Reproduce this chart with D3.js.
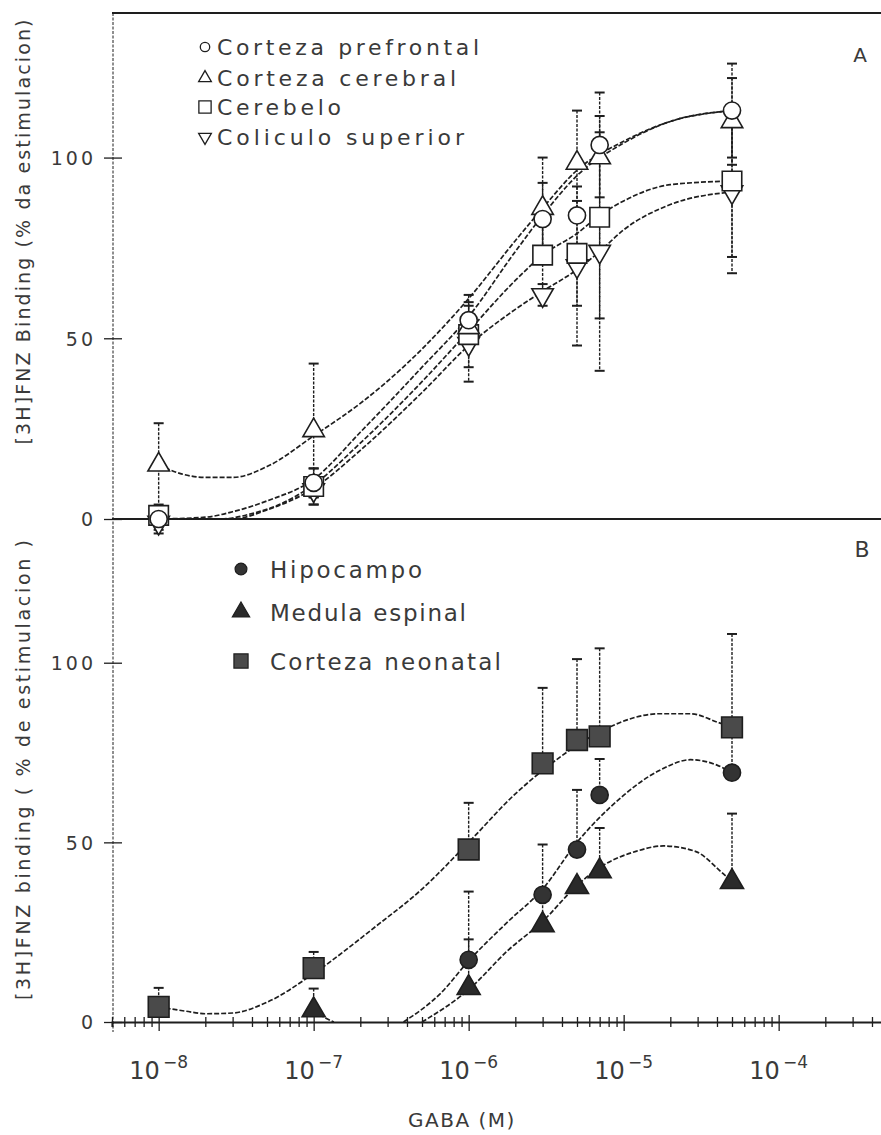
<!DOCTYPE html>
<html><head><meta charset="utf-8">
<script src="https://cdn.jsdelivr.net/npm/d3@7"></script>
<style>
body{margin:0;background:#fff;}
text{font-family:"DejaVu Sans","Liberation Sans",sans-serif;fill:#3a3a3a;}
</style></head>
<body>
<svg id="chart" width="881" height="1135"></svg>
<script>
// ---------- DATA ----------
// Panel A (open symbols)
const concA = [1e-8, 1e-7, 1e-6, 3e-6, 5e-6, 7e-6, 5e-5];
const prefrontal    = [0, 10, 55, 83, 84, 103.5, 113];
const prefrontalErr = [3, 4, 7, 10, 0, 14.5, 13];
const cerebral      = [15, 24.5, 53, 86, 98.5, 100, 110];
const cerebralErr   = [11.5, 18.5, 0, 14, 14.5, 0, 12];
const cerebelo      = [1, 9, 51, 73, 73.5, 83.5, 93.5];
const cerebeloErr   = [3, 5, 9, 10, 14.5, 28, 21];
const coliculo      = [-1, 8, 48.5, 62, 70, 74, 90.5];
const coliculoErr   = [3, 4, 10.5, 3, 22, 33, 22.5];

const prefrontalFit = [[1e-8,0],[2e-8,0.5],[3e-8,2],[5e-8,5],[1e-7,11],[2e-7,24],[5e-7,42],[1e-6,56],[2e-6,74],[3e-6,84],[5e-6,95],[1e-5,104],[2e-5,110],[5e-5,113]];
const cerebralFit   = [[1e-8,15],[1.4e-8,12.5],[2e-8,11.5],[3e-8,11.5],[5e-8,14.5],[1e-7,23],[2e-7,32],[4e-7,43],[1e-6,61],[2e-6,77],[3e-6,86],[5e-6,96.5],[1e-5,104.5],[2e-5,110],[5e-5,113]];
const cerebeloFit   = [[1e-8,0],[2.5e-8,0],[4e-8,1.5],[6e-8,4],[1e-7,9.5],[2e-7,21],[5e-7,38],[1e-6,52],[2e-6,66],[3e-6,73],[5e-6,79],[7e-6,84],[1e-5,88],[2e-5,92.5],[5e-5,93.5]];
const coliculoFit   = [[1e-8,0],[3e-8,0],[5e-8,2.5],[1e-7,8.5],[2e-7,19],[5e-7,35],[1e-6,48],[2e-6,58],[3e-6,63],[5e-6,69],[7e-6,74],[1e-5,80],[2e-5,87],[5e-5,90.5]];

// Panel B (filled symbols)
const concNeonatal = [1e-8, 1e-7, 1e-6, 3e-6, 5e-6, 7e-6, 5e-5];
const neonatal     = [4.2, 15, 48, 72, 78.5, 79.5, 82];
const neonatalErr  = [5.3, 4.5, 13, 21, 22.5, 24.5, 26];
const concHipocampo = [1e-6, 3e-6, 5e-6, 7e-6, 5e-5];
const hipocampo     = [17.3, 35.4, 48, 63.2, 69.4];
const hipocampoErr  = [19, 14, 16.6, 10, 12.6];
const concMedula = [1e-7, 1e-6, 3e-6, 5e-6, 7e-6, 5e-5];
const medula     = [3.3, 9.5, 27, 37.6, 42, 39];
const medulaErr  = [6, 13.5, 8, 0, 12, 19];

const neonatalFit  = [[1e-8,4.2],[1.5e-8,3],[2e-8,2.3],[3e-8,2.5],[5e-8,5.5],[1e-7,13.5],[2.5e-7,26.5],[5e-7,37],[1e-6,50],[2e-6,63.5],[3e-6,70],[5e-6,77],[8e-6,82],[1.7e-5,85.8],[2.7e-5,85.8],[4e-5,83.5],[5e-5,82]];
const hipocampoFit = [[3.8e-7,0],[6.6e-7,8],[1e-6,17],[1.8e-6,28],[3e-6,37],[5e-6,50],[8.3e-6,60],[1.7e-5,70],[2.7e-5,73],[4e-5,71.5],[5e-5,69.4]];
const medulaFit    = [[5e-7,0],[1e-6,9],[1.8e-6,20],[3e-6,28],[5e-6,38],[7e-6,43],[1.2e-5,47.5],[1.8e-5,49],[2.9e-5,47.5],[4.2e-5,42],[5e-5,39]];
const medulaHump   = [[1e-7,3.3],[1.15e-7,1.5],[1.35e-7,0]];

const yTicks = [0, 50, 100];
const xDecades = [-8, -7, -6, -5, -4];
const legendA = ["Corteza prefrontal", "Corteza cerebral", "Cerebelo", "Coliculo superior"];
const legendB = ["Hipocampo", "Medula espinal", "Corteza neonatal"];
const titleA = "[3H]FNZ Binding (% da estimulacion)";
const titleB = "[3H]FNZ binding ( % de estimulacion )";
const titleX = "GABA (M)";

// ---------- SCALES ----------
const svg = d3.select("#chart");
const x  = d3.scaleLog().domain([5e-9, 5e-4]).range([112, 887]);
const yA = d3.scaleLinear().domain([0, 140]).range([519, 13]);
const yB = d3.scaleLinear().domain([0, 140]).range([1022, 519]);
const ink = "#1e1e1e";

// ---------- FRAME / AXES ----------
svg.append("line").attr("x1",112).attr("x2",881).attr("y1",yA(140)).attr("y2",yA(140))
  .attr("stroke",ink).attr("stroke-width",2);
svg.append("line").attr("x1",112).attr("x2",881).attr("y1",yA(0)).attr("y2",yA(0))
  .attr("stroke",ink).attr("stroke-width",2);
svg.append("line").attr("x1",113).attr("x2",113).attr("y1",yA(140)).attr("y2",1032)
  .attr("stroke",ink).attr("stroke-width",1).attr("stroke-dasharray","3,1.5");

function yAxis(scale){
  const g = svg.append("g").attr("transform","translate(113,0)")
    .call(d3.axisLeft(scale).tickValues(yTicks).tickSize(9).tickPadding(8));
  g.select(".domain").remove();
  g.selectAll(".tick line").attr("x1",9).attr("stroke",ink).attr("stroke-width",1.3);
  g.selectAll(".tick text").style("font-size","19px").style("letter-spacing","3px")
    .attr("fill","#444").attr("dy","0.36em");
}
yAxis(yA); yAxis(yB);

// bottom x axis (panel B)
const allTicks = x.ticks();
const gx = svg.append("g").attr("transform",`translate(0,${yB(0)})`)
  .call(d3.axisBottom(x).tickValues(allTicks).tickFormat("").tickSize(5));
gx.select(".domain").attr("stroke",ink).attr("stroke-width",2);
gx.selectAll(".tick line").each(function(d){
  const major = Math.abs(Math.log10(d) - Math.round(Math.log10(d))) < 1e-6;
  d3.select(this).attr("y1", major ? -7 : -5).attr("y2", major ? 9 : 5)
    .attr("stroke",ink).attr("stroke-width",1.3);
});
// decade labels
xDecades.forEach(e=>{
  const t = svg.append("text").attr("x", x(Math.pow(10,e))).attr("y",1079)
    .attr("text-anchor","middle").style("font-size","24px").attr("fill","#444");
  t.append("tspan").text("10");
  t.append("tspan").text("\u2212" + Math.abs(e)).attr("dy",-11).attr("dx",3)
    .style("font-size","17px");
});
svg.append("text").attr("x",462).attr("y",1127).attr("text-anchor","middle")
  .style("font-size","20px").style("letter-spacing","1.5px").attr("fill","#444").text(titleX);

// y titles
svg.append("text").attr("transform","translate(30,232) rotate(-90)").attr("text-anchor","middle")
  .style("font-size","19px").attr("textLength",425).attr("lengthAdjust","spacing")
  .attr("fill","#444").text(titleA);
svg.append("text").attr("transform","translate(30,770) rotate(-90)").attr("text-anchor","middle")
  .style("font-size","19px").attr("textLength",460).attr("lengthAdjust","spacing")
  .attr("fill","#444").text(titleB);

// panel letters
svg.append("text").attr("x",860).attr("y",62).attr("text-anchor","middle").style("font-size","20px").text("A");
svg.append("text").attr("x",862).attr("y",557).attr("text-anchor","middle").style("font-size","22px").text("B");

// ---------- CURVES ----------
function curve(pts, scale){
  const line = d3.line().x(d=>x(d[0])).y(d=>scale(d[1])).curve(d3.curveMonotoneX);
  svg.append("path").attr("d", line(pts)).attr("fill","none").attr("stroke",ink)
    .attr("stroke-width",1.7).attr("stroke-dasharray","5,2");
}
[prefrontalFit, cerebralFit, cerebeloFit, coliculoFit].forEach(c=>curve(c, yA));
[neonatalFit, hipocampoFit, medulaFit, medulaHump].forEach(c=>curve(c, yB));

// ---------- ERROR BARS ----------
function errBars(conc, vals, errs, scale, twoSided){
  conc.forEach((c,i)=>{
    if(!errs[i]) return;
    const cx = x(c), top = scale(vals[i]+errs[i]), bot = twoSided ? scale(vals[i]-errs[i]) : scale(vals[i]);
    svg.append("line").attr("x1",cx).attr("x2",cx).attr("y1",top).attr("y2",bot)
      .attr("stroke",ink).attr("stroke-width",1.4).attr("stroke-dasharray","3,1.5");
    svg.append("line").attr("x1",cx-5).attr("x2",cx+5).attr("y1",top).attr("y2",top)
      .attr("stroke",ink).attr("stroke-width",2);
    if(twoSided) svg.append("line").attr("x1",cx-5).attr("x2",cx+5).attr("y1",bot).attr("y2",bot)
      .attr("stroke",ink).attr("stroke-width",2);
  });
}
errBars(concA, prefrontal, prefrontalErr, yA, true);
errBars(concA, cerebral, cerebralErr, yA, true);
errBars(concA, cerebelo, cerebeloErr, yA, true);
errBars(concA, coliculo, coliculoErr, yA, true);
errBars(concNeonatal, neonatal, neonatalErr, yB, false);
errBars(concHipocampo, hipocampo, hipocampoErr, yB, false);
errBars(concMedula, medula, medulaErr, yB, false);

// ---------- MARKERS ----------
const sym = {
  circle: d3.symbol().type(d3.symbolCircle),
  square: d3.symbol().type(d3.symbolSquare),
  triangle: d3.symbol().type(d3.symbolTriangle)
};
function markers(conc, vals, type, size, scale, filled, rot, fillCol){
  svg.append("g").selectAll("path").data(conc).join("path")
    .attr("d", sym[type].size(size)())
    .attr("transform",(c,i)=>`translate(${x(c)},${scale(vals[i])}) rotate(${rot||0})`)
    .attr("fill", filled ? fillCol : "#fff").attr("stroke",ink).attr("stroke-width",1.6);
}
markers(concA, coliculo, "triangle", 200, yA, false, 180);
markers(concA, cerebelo, "square", 380, yA, false);
markers(concA, cerebral, "triangle", 200, yA, false);
markers(concA, prefrontal, "circle", 230, yA, false);
markers(concNeonatal, neonatal, "square", 430, yB, true, 0, "#4a4a4a");
markers(concHipocampo, hipocampo, "circle", 230, yB, true, 0, "#333");
markers(concMedula, medula, "triangle", 230, yB, true, 0, "#2a2a2a");

// ---------- LEGENDS ----------
const legA = [
  {t:"circle", s:70, r:0, y:47, w:262},
  {t:"triangle", s:70, r:0, y:78, w:239},
  {t:"square", s:150, r:0, y:107, w:124},
  {t:"triangle", s:70, r:180, y:137, w:247}
];
legA.forEach((d,i)=>{
  svg.append("path").attr("d", sym[d.t].size(d.s)())
    .attr("transform",`translate(205,${d.y}) rotate(${d.r})`)
    .attr("fill","#fff").attr("stroke",ink).attr("stroke-width",1.3);
  svg.append("text").attr("x",217).attr("y",d.y+8).style("font-size","22px")
    .attr("textLength",d.w).attr("lengthAdjust","spacing").text(legendA[i]);
});
const legB = [
  {t:"circle", s:110, y:569, w:152, f:"#333"},
  {t:"triangle", s:130, y:612, w:196, f:"#2a2a2a"},
  {t:"square", s:200, y:661, w:231, f:"#4a4a4a"}
];
legB.forEach((d,i)=>{
  svg.append("path").attr("d", sym[d.t].size(d.s)())
    .attr("transform",`translate(241,${d.y})`)
    .attr("fill",d.f).attr("stroke",ink).attr("stroke-width",1.2);
  svg.append("text").attr("x",270).attr("y",d.y+9).style("font-size","23px")
    .attr("textLength",d.w).attr("lengthAdjust","spacing").text(legendB[i]);
});
</script>
</body></html>
